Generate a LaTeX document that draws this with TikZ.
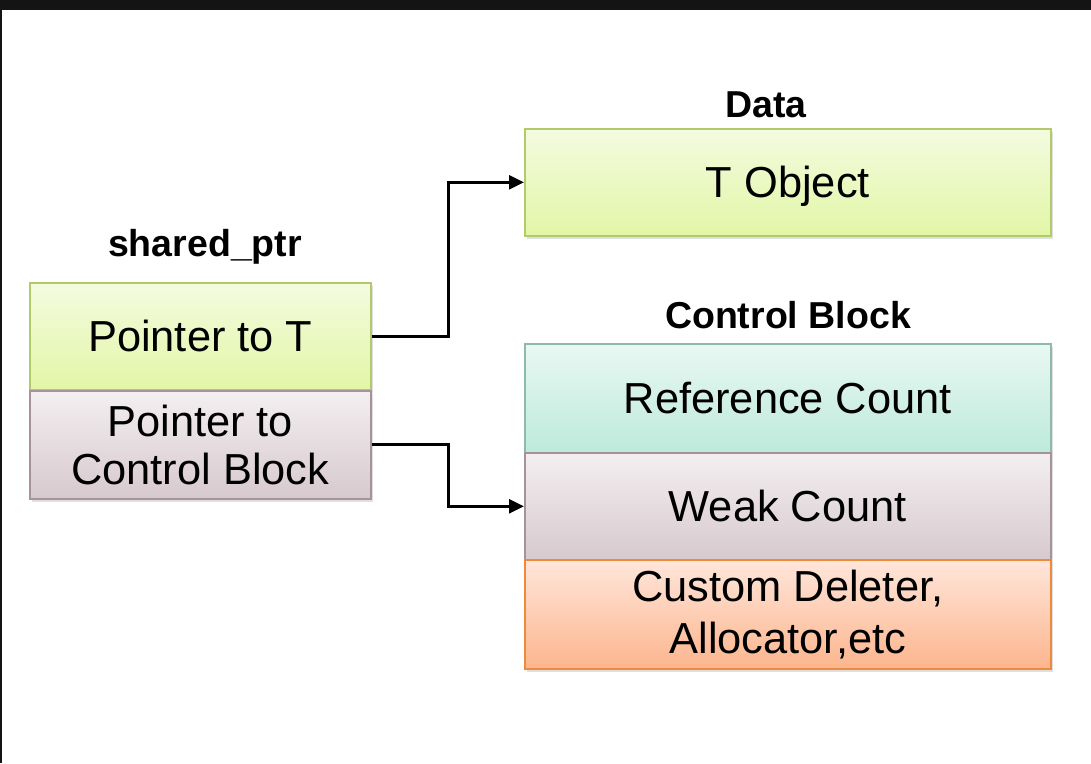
\documentclass[tikz,border=0pt]{standalone}
\usepackage{fontspec}
\setmainfont{Liberation Sans}
\usetikzlibrary{arrows.meta,shadows}

\definecolor{greenTop}{HTML}{F4FBE0}
\definecolor{greenBot}{HTML}{E2F6A6}
\definecolor{greenLine}{HTML}{B2C96C}
\definecolor{mauveTop}{HTML}{F3EFF1}
\definecolor{mauveBot}{HTML}{D7C9CE}
\definecolor{mauveLine}{HTML}{A6929A}
\definecolor{tealTop}{HTML}{E9F8F3}
\definecolor{tealBot}{HTML}{BDEADA}
\definecolor{tealLine}{HTML}{8DBBA8}
\definecolor{orangeTop}{HTML}{FFE6DA}
\definecolor{orangeBot}{HTML}{FCB58E}
\definecolor{orangeLine}{HTML}{EE8A3C}
\definecolor{frameDark}{HTML}{141414}

\tikzset{
  cell/.style={draw, line width=1.6pt, anchor=north west, inner sep=0pt,
    align=center, font=\fontsize{43.4}{48}\selectfont,
    drop shadow={opacity=0.25, shadow xshift=2pt, shadow yshift=-3pt}},
  greencell/.style={cell, draw=greenLine, top color=greenTop, bottom color=greenBot},
  mauvecell/.style={cell, draw=mauveLine, top color=mauveTop, bottom color=mauveBot},
  tealcell/.style={cell, draw=tealLine, top color=tealTop, bottom color=tealBot},
  orangecell/.style={cell, draw=orangeLine, top color=orangeTop, bottom color=orangeBot},
  title/.style={anchor=base, font=\fontsize{37.5}{42}\selectfont\bfseries, inner sep=0pt},
  link/.style={line width=2.8pt, -{Triangle[length=15pt,width=14pt]}}
}

\begin{document}
\begin{tikzpicture}[x=1pt,y=-1pt]
  % canvas and the dark frame edges
  \fill[white] (0,0) rectangle (1091,763);
  \useasboundingbox (0,0) rectangle (1091,763);
  \fill[frameDark] (0,0) rectangle (1091,10);
  \fill[frameDark] (0,0) rectangle (2,763);

  % shared_ptr
  \node[title] (spTitle) at (205,256) {shared\_ptr};
  \node[greencell, minimum width=341pt, minimum height=107pt,
        text height=31pt, text depth=0pt] (ptrT) at (29,282) {Pointer to T};
  \node[mauvecell, minimum width=341pt, minimum height=108pt] (ptrCB) at (29,390)
        {Pointer to\\Control Block};

  % data
  \node[title] (dataTitle) at (766,117) {Data};
  \node[greencell, minimum width=526pt, minimum height=107pt,
        text height=31pt, text depth=0pt] (tobj) at (524,128) {T Object};

  % control block
  \node[title] (cbTitle) at (788,328) {Control Block};
  \node[tealcell, minimum width=526pt, minimum height=109pt,
        text height=31pt, text depth=0pt] (refc) at (524,343) {Reference Count};
  \node[mauvecell, minimum width=526pt, minimum height=107pt,
        text height=31pt, text depth=0pt] (weakc) at (524,452) {Weak Count};
  \node[orangecell, minimum width=526pt, minimum height=109pt,
        font=\fontsize{43.4}{52}\selectfont] (custom) at (524,559)
        {Custom Deleter,\\Allocator,etc};

  % pointers
  \draw[link] (ptrT.east) -- ++(77,0) |- (tobj.west);
  \draw[link] (ptrCB.east) -- ++(77,0) |- (weakc.west);
\end{tikzpicture}
\end{document}
